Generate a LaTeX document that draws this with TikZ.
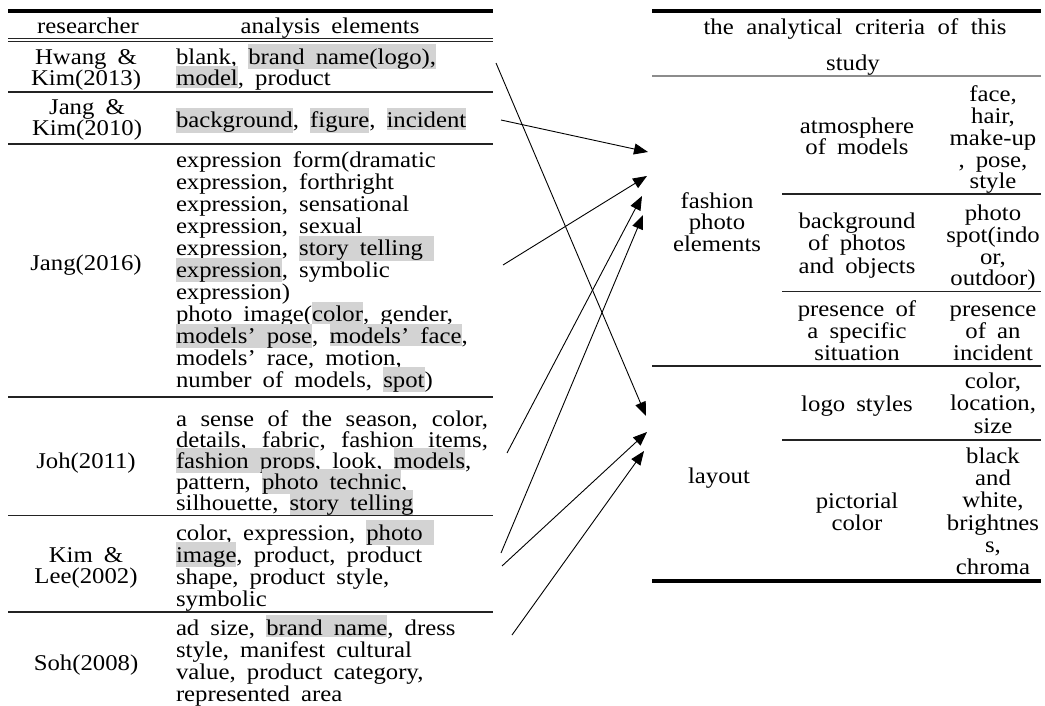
\documentclass[tikz,border=0pt]{standalone}
\usepackage{fontspec}
\setmainfont[FakeStretch=1.1,WordSpace=1.8]{Liberation Serif}
\usetikzlibrary{arrows.meta}
\definecolor{hlgray}{RGB}{211,211,211}
\definecolor{rulecol}{RGB}{35,35,35}
\definecolor{thingray}{RGB}{140,140,140}
\newcommand\hl[1]{{\setlength{\fboxsep}{0pt}\colorbox{hlgray}{\rule[-2pt]{0pt}{22pt}#1}}}
\newcommand\cellfont{\fontsize{22.5pt}{22pt}\selectfont}
\newcommand\fullline[1]{\makebox[312pt][s]{#1}}
\begin{document}
\begin{tikzpicture}[x=1pt,y=-1pt,
  txt/.style={font=\cellfont,inner sep=0pt,outer sep=0pt},
  lt/.style={txt,anchor=base west},
  ct/.style={txt,anchor=base},
  heavyrule/.style={line width=4pt,draw=black},
  rowrule/.style={line width=1.8pt,draw=rulecol},
  dblrule/.style={line width=1.2pt,draw=rulecol},
  greyrule/.style={line width=1.2pt,draw=thingray},
  arr/.style={line width=0.9pt,draw=black,-{Triangle[length=14pt,width=11pt]}}]
\useasboundingbox[fill=white] (0,0) rectangle (1045,706);

% ---------- left table rules ----------
\draw[heavyrule] (8,11) -- (493,11);
\draw[dblrule] (8,38.7) -- (493,38.7);
\draw[dblrule] (8,41.9) -- (493,41.9);
\draw[rowrule] (8,91.7) -- (493,91.7);
\draw[rowrule] (8,144) -- (493,144);
\draw[rowrule] (8,397) -- (493,397);
\draw[rowrule] (8,515.5) -- (493,515.5);
\draw[rowrule] (8,612) -- (493,612);

% ---------- left table header ----------
\node[ct] (hR) at (88,34) {researcher};
\node[ct] (hA) at (330,34) {analysis elements};

% ---------- researchers ----------
\node[ct] (r1a) at (86,64.3) {Hwang \&};
\node[ct] (r1b) at (86,86) {Kim(2013)};
\node[ct] (r2a) at (87,115) {Jang \&};
\node[ct] (r2b) at (87,136) {Kim(2010)};
\node[ct] (r3) at (86,270) {Jang(2016)};
\node[ct] (r4) at (86,468) {Joh(2011)};
\node[ct] (r5a) at (86,562) {Kim \&};
\node[ct] (r5b) at (86,583.5) {Lee(2002)};
\node[ct] (r6) at (86,670) {Soh(2008)};

% ---------- analysis elements ----------
\node[lt] (e1a) at (176,64.3) {blank, \hl{brand name(logo),}};
\node[lt] (e1b) at (176,86) {\hl{model}, product};
\node[lt] (e2) at (176,127.7) {\hl{background}, \hl{figure}, \hl{incident}};

\node[lt] (e3a) at (176,167.7) {expression form(dramatic};
\node[lt] (e3b) at (176,189.7) {expression, forthright};
\node[lt] (e3c) at (176,211.7) {expression, sensational};
\node[lt] (e3d) at (176,233.7) {expression, sexual};
\node[lt] (e3e) at (176,255.7) {expression, \hl{story telling\ }};
\node[lt] (e3f) at (176,277.7) {\hl{expression}, symbolic};
\node[lt] (e3g) at (176,299.7) {expression)};
\node[lt] (e3h) at (176,321.7) {photo image(\hl{color}, gender,};
\node[lt] (e3i) at (176,343.7) {\hl{models’ pose}, \hl{models’ face},};
\node[lt] (e3j) at (176,365.7) {models’ race, motion,};
\node[lt] (e3k) at (176,387.2) {number of models, \hl{spot})};

\node[lt] (e4a) at (176,426) {\fullline{a sense of the season, color,}};
\node[lt] (e4b) at (176,447) {\fullline{details, fabric, fashion items,}};
\node[lt] (e4c) at (176,468) {\hl{fashion props}, look, \hl{models},};
\node[lt] (e4d) at (176,489) {pattern, \hl{photo technic},};
\node[lt] (e4e) at (176,510) {silhouette, \hl{story telling}};

\node[lt] (e5a) at (176,540) {color, expression, \hl{photo\ }};
\node[lt] (e5b) at (176,562) {\hl{image}, product, product};
\node[lt] (e5c) at (176,584) {shape, product style,};
\node[lt] (e5d) at (176,606.5) {symbolic};

\node[lt] (e6a) at (176,635) {ad size, \hl{brand name}, dress};
\node[lt] (e6b) at (176,657) {style, manifest cultural};
\node[lt] (e6c) at (176,679) {value, product category,};
\node[lt] (e6d) at (176,701) {represented area};

% ---------- right table rules ----------
\draw[heavyrule] (652,11) -- (1041,11);
\draw[greyrule] (652,76) -- (1041,76);
\draw[rowrule] (782,194.3) -- (1041,194.3);
\draw[rowrule] (782,291.5) -- (1041,291.5);
\draw[rowrule] (652,366) -- (1041,366);
\draw[rowrule] (782,440) -- (1041,440);
\draw[heavyrule] (652,581) -- (1041,581);

% ---------- right table text ----------
\node[ct] (ch1) at (855,34.3) {\makebox[303pt][s]{the analytical criteria of this}};
\node[ct] (ch2) at (853,71) {study};

\node[ct] (fp1) at (717,208.3) {fashion};
\node[ct] (fp2) at (717,229.8) {photo};
\node[ct] (fp3) at (717,251.7) {elements};

\node[ct] (am1) at (857,133.3) {atmosphere};
\node[ct] (am2) at (857,155) {of models};
\node[ct] (fa1) at (993,102) {face,};
\node[ct] (fa2) at (993,123.7) {hair,};
\node[ct] (fa3) at (993,145.4) {make-up};
\node[ct] (fa4) at (993,167.1) {, pose,};
\node[ct] (fa5) at (993,188.8) {style};

\node[ct] (bg1) at (857,228.5) {background};
\node[ct] (bg2) at (857,250.7) {of photos};
\node[ct] (bg3) at (857,273) {and objects};
\node[ct] (ps1) at (993,221) {photo};
\node[ct] (ps2) at (993,242.5) {spot(indo};
\node[ct] (ps3) at (993,264) {or,};
\node[ct] (ps4) at (993,285.5) {outdoor)};

\node[ct] (pr1) at (857,316.7) {presence of};
\node[ct] (pr2) at (857,338.3) {a specific};
\node[ct] (pr3) at (857,360) {situation};
\node[ct] (pi1) at (993,316.7) {presence};
\node[ct] (pi2) at (993,338.3) {of an};
\node[ct] (pi3) at (993,360) {incident};

\node[ct] (lay) at (719,483.3) {layout};
\node[ct] (lg) at (857,411.7) {logo styles};
\node[ct] (cl1) at (993,388) {color,};
\node[ct] (cl2) at (993,410.5) {location,};
\node[ct] (cl3) at (993,433) {size};

\node[ct] (pc1) at (857,508.3) {pictorial};
\node[ct] (pc2) at (857,530) {color};
\node[ct] (bw1) at (993,463.3) {black};
\node[ct] (bw2) at (993,485.6) {and};
\node[ct] (bw3) at (993,507.9) {white,};
\node[ct] (bw4) at (993,530.2) {brightnes};
\node[ct] (bw5) at (993,552.5) {s,};
\node[ct] (bw6) at (993,574.8) {chroma};

% ---------- connectors ----------
\coordinate (s1) at (496,63);
\coordinate (s2) at (501,120);
\coordinate (s3) at (503,265);
\coordinate (s4) at (507,453);
\coordinate (s5) at (501,553);
\coordinate (s6) at (502,566);
\coordinate (s7) at (512,635);
\coordinate (t1) at (646,416);
\coordinate (t2) at (648,152);
\coordinate (t3) at (647,176);
\coordinate (t4) at (642,196);
\coordinate (t5) at (643,215);
\coordinate (t6) at (647,432);
\coordinate (t7) at (644,451);
\draw[arr] (s1) -- (t1);
\draw[arr] (s2) -- (t2);
\draw[arr] (s3) -- (t3);
\draw[arr] (s4) -- (t4);
\draw[arr] (s5) -- (t5);
\draw[arr] (s6) -- (t6);
\draw[arr] (s7) -- (t7);
\end{tikzpicture}
\end{document}
